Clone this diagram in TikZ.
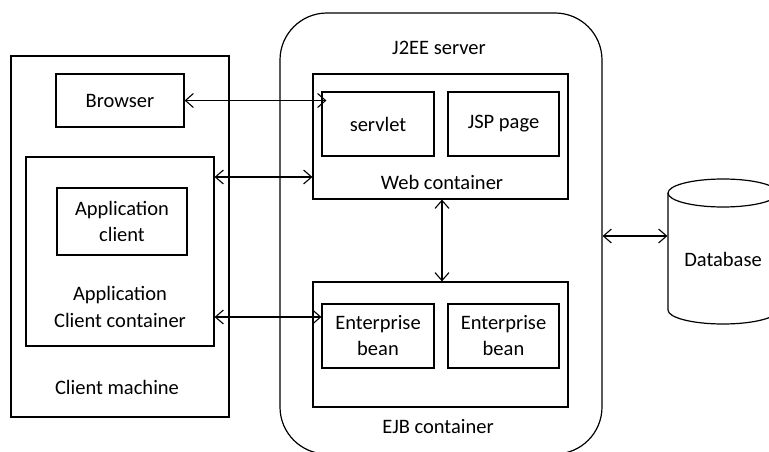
\documentclass[tikz,border=0pt]{standalone}
\usepackage{fontspec}
\setmainfont{Carlito}
\usetikzlibrary{arrows.meta,fit}

\begin{document}
\begin{tikzpicture}[x=1pt,y=-1pt,line width=1.2pt,
  font=\fontsize{20.5}{26}\selectfont,
  frame/.style={draw,rectangle,inner sep=0pt},
  box/.style={draw,rectangle,inner sep=0pt,align=center},
  area/.style={rectangle,inner sep=0pt},
  lbl/.style={inner sep=0pt,align=center},
  link/.style={{Straight Barb[length=8pt,width=14pt]}-{Straight Barb[length=8pt,width=14pt]},line width=1.1pt}]

  \clip (0,0) rectangle (769,452);

  % client side
  \node[frame,fit={(11,56) (229,417)}] (machine) {};
  \node[box,minimum width=128pt,minimum height=53pt] (browser) at (120,100.5) {Browser};
  \node[frame,fit={(26,157) (214,346)}] (appcont) {};
  \node[box,minimum width=130pt,minimum height=67pt] (appclient) at (122,221.5) {Application\\client};
  \node[lbl,font=\fontsize{20.5}{27}\selectfont] (appcontlbl) at (120,306.5) {Application\\Client container};
  \node[lbl] (machinelbl) at (117,387) {Client machine};

  % server side
  \node[draw,rectangle,rounded corners=47pt,inner sep=0pt,fit={(280,13) (602,454)}] (server) {};
  \node[lbl] (serverlbl) at (439,48) {J2EE server};

  \node[frame,fit={(313,74) (568,199)}] (web) {};
  \node[box,minimum width=112pt,minimum height=64pt] (servlet) at (378,124) {servlet};
  \node[box,minimum width=111pt,minimum height=64pt] (jsp) at (503.5,124) {JSP page};
  \node[lbl] (weblbl) at (442,182) {Web container};

  \node[frame,fit={(313,282) (568,407)}] (ejb) {};
  \node[box,minimum width=112pt,minimum height=64pt] (bean1) at (378,336) {Enterprise\\bean};
  \node[box,minimum width=111pt,minimum height=64pt] (bean2) at (503.5,336) {Enterprise\\bean};
  \node[lbl] (ejblbl) at (438,427) {EJB container};

  % database cylinder
  \draw (668,193) -- (668,310)
    arc[start angle=180,end angle=0,x radius=55,y radius=14] -- (778,193);
  \draw (723,193) ellipse[x radius=55,y radius=14];
  \node[area,fit={(668,179) (778,324)}] (db) {};
  \node[lbl] (dblbl) at (723,259) {Database};

  % connector heights
  \coordinate (ybrowser) at (0,100.5);
  \coordinate (yweb) at (0,177);
  \coordinate (yejb) at (0,317);
  \coordinate (ydb) at (0,236);

  % connectors
  \draw[link] (browser.east) -- ([xshift=5pt]servlet.west |- ybrowser);
  \draw[link] (appcont.east |- yweb) -- (web.west |- yweb);
  \draw[link] (appcont.east |- yejb) -- (bean1.west |- yejb);
  \draw[link] ([xshift=1.5pt]web.south) -- ([xshift=1.5pt]ejb.north);
  \draw[link] (server.east |- ydb) -- (db.west |- ydb);
\end{tikzpicture}
\end{document}
